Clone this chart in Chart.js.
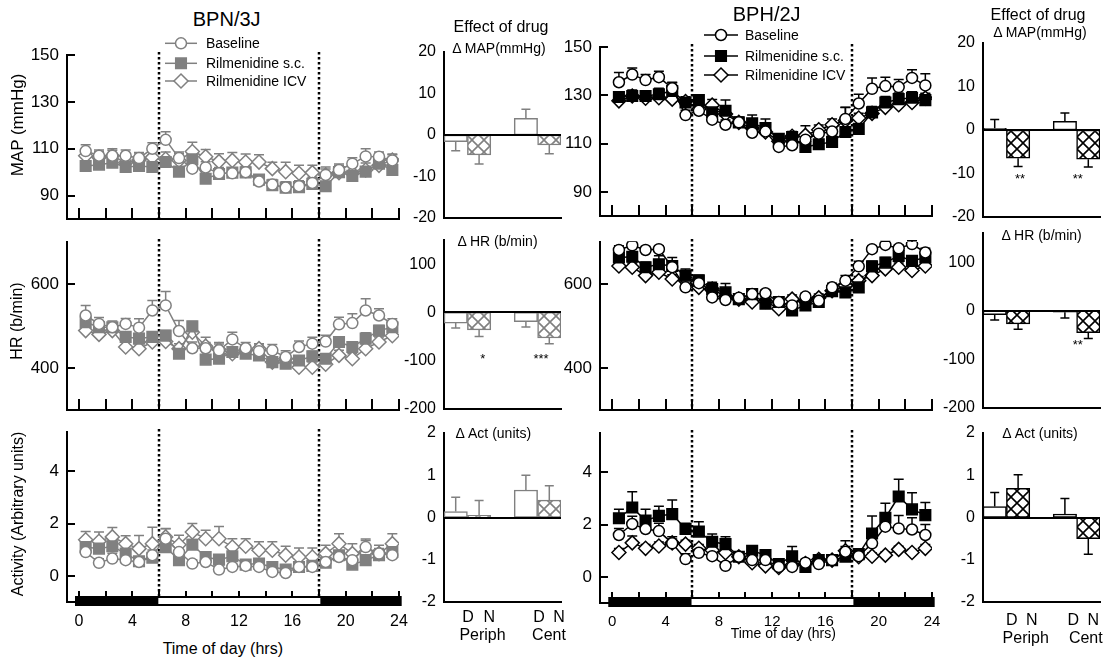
<!DOCTYPE html>
<html>
<head>
<meta charset="utf-8">
<title>BPN/3J vs BPH/2J: rilmenidine, 24 h recordings</title>
<script src="https://cdn.jsdelivr.net/npm/chart.js@4.4.1/dist/chart.umd.min.js"></script>
<style>
  body { margin: 0; background: #fff; width: 1108px; height: 661px; position: relative; overflow: hidden;
         font-family: "Liberation Sans", Arial, sans-serif; color: #000; }
  canvas { position: absolute; }
  .t { position: absolute; white-space: nowrap; transform: translate(-50%, -50%); line-height: 1; }
  .l { position: absolute; white-space: nowrap; transform: translateY(-50%); line-height: 1; }
  .r { position: absolute; white-space: nowrap; transform: translate(-50%, -50%) rotate(-90deg); line-height: 1; }
</style>
</head>
<body>
<script>
// ---- data ----
const hours = [0.5, 1.5, 2.5, 3.5, 4.5, 5.5, 6.5, 7.5, 8.5, 9.5, 10.5, 11.5,
               12.5, 13.5, 14.5, 15.5, 16.5, 17.5, 18.5, 19.5, 20.5, 21.5, 22.5, 23.5];
const timeTicks = [0, 4, 8, 12, 16, 20, 24];
const tickMarkHours = [0, 2, 4, 6, 8, 10, 12, 14, 16, 18, 20, 22, 24];
const lightsOnOff = [6, 18];
const seriesNames = ['Baseline', 'Rilmenidine s.c.', 'Rilmenidine ICV'];

// BPN/3J (normotensive)
const nMapBase = [109, 107, 107, 107, 106, 110, 113.8, 106, 101.5, 102, 99.5, 99.5, 100, 96, 94.7, 93.4, 94, 95.4, 98.8, 100.9, 103.6, 106.7, 106.6, 105];
const nMapBaseErr = [2.7, 2.5, 2.3, 2.5, 2.4, 2.5, 3.4, 2.6, 2.5, 2.4, 2.5, 2.3, 2.5, 2.4, 2.2, 2.5, 2.3, 2.4, 2.5, 2.6, 2.5, 3.3, 2.0, 2.4];
const nMapSc = [102.6, 103.2, 104, 102.2, 102.6, 102.2, 104.3, 100.2, 105.5, 97.2, 99.2, 99.8, 99.9, 96.8, 94.4, 93.4, 93.6, 95, 94, 100, 98.4, 100.2, 103.6, 100.9];
const nMapScErr = [2, 2, 1.8, 2.1, 2, 1.9, 2.2, 2, 2.3, 2, 1.9, 2, 2.1, 2, 1.9, 2, 1.8, 2, 1.9, 2, 2.1, 2, 2.2, 2];
const nMapIcv = [107, 106.3, 107, 104, 105.2, 106.3, 105.6, 105, 108.8, 106.6, 104.5, 105, 104.3, 104.3, 101.5, 100.2, 99.5, 99.8, 98.8, 99.8, 99.5, 100.9, 102.9, 105.2];
const nMapIcvErr = [3, 2.5, 3, 2.5, 3, 2.5, 3, 3, 4, 3.1, 3.4, 3.4, 3.4, 3.1, 2.7, 4, 3.4, 3.1, 3.4, 3, 3, 3, 3, 2.5];

const nHrBase = [525, 505, 497, 505, 496, 537, 549, 488, 447, 447, 442, 468, 447, 440, 442, 426, 450, 458, 463, 504, 507, 537, 525, 505];
const nHrBaseErr = [24, 15, 15, 13, 21, 24, 33, 25, 15, 14, 15, 17, 14, 15, 14, 15, 14, 15, 15, 17, 22, 28, 16, 12];
const nHrSc = [509, 497, 497, 474, 470, 474, 477, 434, 499, 420, 422, 438, 434, 430, 414, 410, 418, 428, 422, 462, 450, 470, 489, 497];
const nHrScErr = [12, 12, 10, 12, 12, 10, 12, 10, 12, 10, 10, 10, 11, 10, 10, 10, 10, 12, 12, 12, 12, 14, 12, 12];
const nHrIcv = [489, 480, 489, 450, 446, 462, 463, 446, 485, 452, 444, 434, 442, 446, 414, 422, 402, 402, 409, 430, 422, 446, 462, 477];
const nHrIcvErr = [12, 12, 10, 12, 12, 12, 12, 12, 12, 21, 17, 12, 12, 12, 12, 14, 12, 12, 12, 12, 12, 12, 12, 12];

const nActBase = [0.91, 0.5, 0.66, 0.6, 0.53, 0.79, 1.42, 0.91, 0.47, 0.53, 0.24, 0.34, 0.38, 0.34, 0.15, 0.11, 0.34, 0.34, 0.53, 0.72, 0.6, 1.1, 0.85, 0.79];
const nActBaseErr = [0.2, 0.15, 0.2, 0.15, 0.15, 0.2, 0.38, 0.2, 0.15, 0.15, 0.12, 0.12, 0.12, 0.12, 0.1, 0.1, 0.12, 0.12, 0.15, 0.2, 0.2, 0.25, 0.2, 0.2];
const nActSc = [1.1, 1.04, 1.13, 0.85, 0.56, 0.69, 1.1, 0.6, 1.19, 0.72, 0.62, 0.75, 0.43, 0.47, 0.34, 0.24, 0.34, 0.38, 0.5, 0.79, 0.43, 0.6, 0.79, 0.91];
const nActScErr = [0.2, 0.18, 0.2, 0.2, 0.15, 0.18, 0.2, 0.15, 0.2, 0.15, 0.15, 0.15, 0.12, 0.12, 0.12, 0.1, 0.12, 0.12, 0.15, 0.15, 0.15, 0.18, 0.15, 0.18];
const nActIcv = [1.38, 1.32, 1.49, 1.23, 1.04, 1.23, 1.49, 1.19, 1.68, 1.42, 1.42, 1.1, 1.13, 0.98, 0.98, 0.79, 0.72, 0.72, 0.85, 1.23, 0.85, 0.91, 0.85, 1.23];
const nActIcvErr = [0.32, 0.36, 0.36, 0.3, 0.5, 0.63, 0.32, 0.36, 0.32, 0.32, 0.47, 0.32, 0.29, 0.32, 0.32, 0.34, 0.34, 0.34, 0.32, 0.38, 0.38, 0.5, 0.32, 0.38];

// BPH/2J (hypertensive)
const hMapBase = [135.4, 138.6, 136.3, 137.5, 132.9, 121.8, 123.6, 119.9, 117.8, 118.8, 114.5, 115, 108.6, 109.3, 111.6, 114.1, 115, 120.2, 126.6, 132.7, 133.8, 133.4, 137.2, 134.1];
const hMapBaseErr = [4, 2.7, 2.3, 2.5, 2.5, 2, 2, 2, 2, 2.1, 2, 1.9, 2, 2, 2, 2.1, 2, 4.8, 3.8, 4.5, 3.7, 3.1, 3.4, 4.8];
const hMapSc = [129.3, 129.7, 129.7, 130.4, 131.8, 127, 128, 122.9, 123.6, 118.8, 118.4, 116.4, 112, 112.7, 108.6, 109.7, 110.7, 114.8, 116.1, 122.9, 127, 128.4, 129, 128];
const hMapScErr = [2, 2.5, 2, 2.5, 3.4, 2, 2, 2.3, 4.4, 2, 3.4, 3.8, 2, 1.6, 2, 2, 2.2, 2, 2, 2.5, 2.5, 2.5, 2.5, 2.5];
const hMapIcv = [127.7, 129.7, 128.8, 129, 128.4, 127.4, 124.3, 125.9, 122.2, 118.8, 116.4, 114.8, 111, 113, 113.4, 115.7, 117.8, 119.5, 120.6, 122.5, 125, 126.1, 127, 128.8];
const hMapIcvErr = [2, 2, 2, 2.2, 2, 2, 2.1, 2.4, 2, 2, 2, 2.2, 2, 2, 4, 2, 2.4, 5.4, 2, 2, 2.1, 2, 2, 2];

const hHrBase = [681, 692, 681, 683, 640, 592, 602, 568, 562, 567, 576, 578, 557, 549, 570, 560, 592, 608, 642, 683, 693, 685, 695, 675];
const hHrBaseErr = [10, 8, 8, 8, 10, 10, 10, 10, 10, 10, 8, 8, 8, 8, 8, 8, 10, 12, 12, 8, 8, 8, 8, 10];
const hHrSc = [663, 665, 640, 647, 643, 620, 609, 588, 580, 564, 576, 553, 557, 537, 549, 557, 583, 580, 592, 642, 651, 667, 655, 663];
const hHrScErr = [12, 12, 12, 20, 20, 16, 12, 16, 21, 12, 12, 12, 12, 12, 12, 12, 17, 16, 12, 12, 12, 12, 12, 12];
const hHrIcv = [643, 640, 620, 628, 612, 608, 592, 588, 570, 564, 557, 559, 541, 564, 559, 567, 584, 596, 608, 620, 636, 640, 632, 643];
const hHrIcvErr = [10, 10, 9, 10, 10, 10, 9, 10, 10, 10, 9, 10, 10, 10, 10, 9, 10, 10, 10, 10, 9, 10, 10, 10];

const hActBase = [1.6, 2.02, 1.83, 1.75, 1.28, 0.68, 0.92, 0.79, 0.42, 0.77, 0.64, 0.64, 0.38, 0.38, 0.54, 0.49, 0.64, 0.96, 0.79, 1.28, 1.92, 1.85, 1.81, 1.6];
const hActBaseErr = [0.25, 0.3, 0.3, 0.3, 0.25, 0.2, 0.2, 0.2, 0.15, 0.15, 0.15, 0.15, 0.12, 0.12, 0.12, 0.12, 0.15, 0.2, 0.2, 0.3, 0.4, 0.5, 0.45, 0.4];
const hActSc = [2.24, 2.65, 2.15, 2.33, 2.4, 1.83, 1.73, 1.34, 1.25, 0.77, 1.0, 0.83, 0.49, 0.79, 0.38, 0.64, 0.64, 0.77, 0.87, 1.66, 2.26, 3.07, 2.58, 2.36];
const hActScErr = [0.34, 0.6, 0.43, 0.37, 0.54, 0.22, 0.38, 0.3, 0.28, 0.15, 0.15, 0.2, 0.15, 0.37, 0.15, 0.15, 0.15, 0.15, 0.15, 0.67, 0.55, 0.66, 0.64, 0.48];
const hActIcv = [0.93, 1.3, 1.09, 1.18, 1.3, 1.25, 1.09, 1.02, 0.92, 0.77, 0.54, 0.42, 0.36, 0.45, 0.51, 0.66, 0.64, 1.0, 0.77, 0.79, 0.83, 1.05, 0.93, 1.09];
const hActIcvErr = [0.15, 0.26, 0.15, 0.15, 0.15, 0.15, 0.15, 0.15, 0.15, 0.12, 0.12, 0.12, 0.1, 0.1, 0.1, 0.1, 0.1, 0.38, 0.12, 0.12, 0.12, 0.12, 0.12, 0.15];

// effect of drug: D Periph, N Periph, D Cent, N Cent
const barSlots = ['D', 'N', '', 'D', 'N'];
const nMapEffect = [-1.6, -4.8, 4.0, -2.4];
const nMapEffectErr = [2.2, 2.2, 2.2, 2.1];
const nHrEffect = [-22, -36, -19, -53];
const nHrEffectErr = [10, 14, 11, 12];
const nActEffect = [0.14, 0.05, 0.65, 0.41];
const nActEffectErr = [0.34, 0.35, 0.35, 0.34];
const hMapEffect = [0.4, -6.5, 2.0, -6.7];
const hMapEffectErr = [2.0, 1.9, 1.9, 1.8];
const hHrEffect = [-8, -27, -3, -45];
const hHrEffectErr = [11, 11, 12, 12];
const hActEffect = [0.26, 0.69, 0.08, -0.5];
const hActEffectErr = [0.33, 0.32, 0.37, 0.37];

// ---- drawing ----
const GRAY = '#808080';
Chart.defaults.font.family = '"Liberation Sans", Arial, sans-serif';
Chart.defaults.font.size = 16;
Chart.defaults.color = '#000';

function zeroPad(s) { s.paddingLeft = 0; s.paddingRight = 0; s.paddingTop = 0; s.paddingBottom = 0; }

function makeCanvas(area, m) {
  const c = document.createElement('canvas');
  const w = area[2] - area[0] + m.l + m.r, h = area[3] - area[1] + m.t + m.b;
  c.width = w; c.height = h;
  c.style.left = (area[0] - m.l) + 'px'; c.style.top = (area[1] - m.t) + 'px';
  c.style.width = w + 'px'; c.style.height = h + 'px';
  document.body.appendChild(c);
  return c;
}

function marker(ctx, kind, x, y, color) {
  ctx.beginPath();
  if (kind === 'circle') ctx.arc(x, y, 5.5, 0, Math.PI * 2);
  else if (kind === 'rect') ctx.rect(x - 5.3, y - 5.3, 10.6, 10.6);
  else { ctx.moveTo(x, y - 7); ctx.lineTo(x + 7, y); ctx.lineTo(x, y + 7); ctx.lineTo(x - 7, y); ctx.closePath(); }
  ctx.fillStyle = kind === 'rect' ? color : '#fff';
  ctx.fill();
  ctx.strokeStyle = color; ctx.lineWidth = 1.5; ctx.stroke();
}

const tsPlugin = {
  id: 'ts',
  beforeDatasetsDraw(chart, args, o) {
    const { ctx, chartArea: a, scales: { x, y } } = chart;
    ctx.save();
    ctx.strokeStyle = '#000'; ctx.lineWidth = 2.5; ctx.setLineDash([2.5, 2.5]);
    lightsOnOff.forEach(h => {
      const px = Math.round(x.getPixelForValue(h));
      ctx.beginPath(); ctx.moveTo(px, a.top - 3); ctx.lineTo(px, a.bottom); ctx.stroke();
    });
    ctx.setLineDash([]);
    chart.data.datasets.forEach(ds => {
      ctx.strokeStyle = ds.borderColor; ctx.lineWidth = 1.5;
      ds.data.forEach((p, i) => {
        const px = x.getPixelForValue(p.x), py = y.getPixelForValue(p.y);
        const pe = y.getPixelForValue(p.y + ds.errors[i]);
        ctx.beginPath(); ctx.moveTo(px, py); ctx.lineTo(px, pe);
        ctx.moveTo(px - 5, pe); ctx.lineTo(px + 5, pe); ctx.stroke();
      });
    });
    ctx.restore();
  },
  afterDraw(chart, args, o) {
    const { ctx, chartArea: a, scales: { x, y } } = chart;
    ctx.save();
    ctx.strokeStyle = '#000'; ctx.lineWidth = 2;
    y.ticks.forEach(t => {
      const py = Math.round(y.getPixelForValue(t.value));
      ctx.beginPath(); ctx.moveTo(a.left, py); ctx.lineTo(a.left + 8, py); ctx.stroke();
    });
    tickMarkHours.forEach(h => {
      const px = Math.round(x.getPixelForValue(h));
      ctx.beginPath(); ctx.moveTo(px, a.bottom); ctx.lineTo(px, a.bottom - 11); ctx.stroke();
    });
    if (o.lightBar) {
      const x0 = x.getPixelForValue(-0.3), x1 = x.getPixelForValue(5.95);
      const x2 = x.getPixelForValue(18.1), x3 = x.getPixelForValue(24.2);
      ctx.fillStyle = '#000';
      ctx.fillRect(x0, a.bottom - 6, x3 - x0, 10);
      ctx.fillStyle = '#fff';
      ctx.fillRect(x1, a.bottom - 4, x2 - x1, 6);
    }
    if (o.legend) {
      const L = o.legend;
      ['circle', 'rect', 'rectRot'].forEach((k, i) => {
        const yy = L.ys[i] - L.oy;
        ctx.strokeStyle = L.color; ctx.lineWidth = 1.5;
        ctx.beginPath(); ctx.moveTo(L.x1 - L.ox, yy); ctx.lineTo(L.x2 - L.ox, yy); ctx.stroke();
        marker(ctx, k, (L.x1 + L.x2) / 2 - L.ox, yy, L.color);
      });
    }
    ctx.restore();
  }
};

function xy(vals) { return vals.map((v, i) => ({ x: hours[i], y: v })); }

function seriesSets(color, base, baseErr, sc, scErr, icv, icvErr) {
  const common = { borderColor: color, borderWidth: 1.5, tension: 0, pointBorderColor: color, pointBorderWidth: 1.5 };
  return [
    Object.assign({ label: seriesNames[0], data: xy(base), errors: baseErr, pointStyle: 'circle', pointRadius: 5.5, pointBackgroundColor: '#fff' }, common),
    Object.assign({ label: seriesNames[1], data: xy(sc), errors: scErr, pointStyle: 'rect', pointRadius: 7.5, pointBackgroundColor: color }, common),
    Object.assign({ label: seriesNames[2], data: xy(icv), errors: icvErr, pointStyle: 'rectRot', pointRadius: 7, pointBackgroundColor: '#fff' }, common)
  ];
}

function timeChart(area, m, yMin, yMax, yTicks, sets, extra) {
  const cv = makeCanvas(area, m);
  if (extra.legend) { extra.legend.ox = area[0] - m.l; extra.legend.oy = area[1] - m.t; }
  return new Chart(cv, {
    type: 'line',
    data: { datasets: sets },
    options: {
      responsive: false, animation: false, events: [],
      layout: { autoPadding: false, padding: { left: 0, top: m.t, right: m.r, bottom: 0 } },
      plugins: { legend: { display: false }, tooltip: { enabled: false }, ts: extra },
      scales: {
        x: {
          type: 'linear', min: extra.xMin, max: 24,
          grid: { display: false, drawTicks: false }, border: { color: '#000', width: 2 },
          ticks: { display: !!extra.xLabels, padding: 10, autoSkip: false, maxRotation: 0, font: { size: extra.xFont || 16 } },
          afterBuildTicks: s => { s.ticks = timeTicks.map(v => ({ value: v })); },
          afterFit: s => { s.height = m.b; zeroPad(s); }
        },
        y: {
          type: 'linear', min: yMin, max: yMax,
          grid: { display: false, drawTicks: false }, border: { color: '#000', width: 2 },
          ticks: { padding: 8, autoSkip: false, font: { size: 17 } },
          afterBuildTicks: s => { s.ticks = yTicks.map(v => ({ value: v })); },
          afterFit: s => { s.width = m.l; zeroPad(s); }
        }
      }
    },
    plugins: [tsPlugin]
  });
}

function hatch(color) {
  const n = 12;
  const c = document.createElement('canvas');
  c.width = n; c.height = n;
  const g = c.getContext('2d');
  g.fillStyle = '#fff'; g.fillRect(0, 0, n, n);
  g.strokeStyle = color; g.lineWidth = 1.6;
  g.beginPath(); g.moveTo(-1, -1); g.lineTo(n + 1, n + 1); g.moveTo(n + 1, -1); g.lineTo(-1, n + 1); g.stroke();
  return g.createPattern(c, 'repeat');
}

const effectPlugin = {
  id: 'fx',
  afterDatasetsDraw(chart) {
    const { ctx, chartArea: a, scales: { y } } = chart;
    const ds = chart.data.datasets[0];
    const meta = chart.getDatasetMeta(0);
    ctx.save();
    ctx.strokeStyle = ds.borderColor; ctx.lineWidth = 1.5;
    meta.data.forEach((bar, i) => {
      const v = ds.data[i];
      if (v === null) return;
      const e = ds.errors[i] * (v < 0 ? -1 : 1);
      const py = y.getPixelForValue(v), pe = y.getPixelForValue(v + e);
      ctx.beginPath(); ctx.moveTo(bar.x, py); ctx.lineTo(bar.x, pe);
      ctx.moveTo(bar.x - 4.5, pe); ctx.lineTo(bar.x + 4.5, pe); ctx.stroke();
    });
    const zy = Math.round(y.getPixelForValue(0));
    ctx.strokeStyle = '#000'; ctx.lineWidth = 2;
    ctx.beginPath(); ctx.moveTo(a.left, zy); ctx.lineTo(a.right, zy); ctx.stroke();
    ctx.restore();
  }
};

function effectChart(area, m, yMin, yMax, yTicks, vals, errs, color) {
  const cv = makeCanvas(area, m);
  const pat = hatch(color);
  return new Chart(cv, {
    type: 'bar',
    data: {
      labels: barSlots,
      datasets: [{
        data: [vals[0], vals[1], null, vals[2], vals[3]],
        errors: [errs[0], errs[1], null, errs[2], errs[3]],
        backgroundColor: ['#fff', pat, '#fff', '#fff', pat],
        borderColor: color, borderWidth: 1.5, borderSkipped: false,
        barPercentage: 1, categoryPercentage: 1
      }]
    },
    options: {
      responsive: false, animation: false, events: [],
      layout: { autoPadding: false, padding: { left: 0, top: m.t, right: m.r, bottom: 0 } },
      plugins: { legend: { display: false }, tooltip: { enabled: false } },
      scales: {
        x: {
          grid: { display: false, drawTicks: false }, border: { color: '#000', width: 2 },
          ticks: { display: false },
          afterFit: s => { s.height = m.b; zeroPad(s); }
        },
        y: {
          type: 'linear', min: yMin, max: yMax,
          grid: { display: false, drawTicks: false }, border: { color: '#000', width: 2 },
          ticks: { padding: 8, autoSkip: false },
          afterBuildTicks: s => { s.ticks = yTicks.map(v => ({ value: v })); },
          afterFit: s => { s.width = m.l; zeroPad(s); }
        }
      }
    },
    plugins: [effectPlugin]
  });
}

// time-course panels
timeChart([67, 55, 399, 219], { l: 67, t: 25, r: 10, b: 8 }, 80, 150, [90, 110, 130, 150],
  seriesSets(GRAY, nMapBase, nMapBaseErr, nMapSc, nMapScErr, nMapIcv, nMapIcvErr),
  { xMin: -0.9, legend: { x1: 165, x2: 197, ys: [43.3, 63.3, 81], color: GRAY } });
timeChart([67, 242, 399, 410], { l: 67, t: 10, r: 10, b: 8 }, 300, 700, [400, 600],
  seriesSets(GRAY, nHrBase, nHrBaseErr, nHrSc, nHrScErr, nHrIcv, nHrIcvErr), { xMin: -0.9 });
timeChart([67, 432, 399, 602], { l: 67, t: 10, r: 10, b: 34 }, -1, 5.5, [0, 2, 4],
  seriesSets(GRAY, nActBase, nActBaseErr, nActSc, nActScErr, nActIcv, nActIcvErr),
  { xMin: -0.9, xLabels: true, lightBar: true });

timeChart([600, 47, 932, 216], { l: 50, t: 25, r: 10, b: 8 }, 80, 150, [90, 110, 130, 150],
  seriesSets('#000', hMapBase, hMapBaseErr, hMapSc, hMapScErr, hMapIcv, hMapIcvErr),
  { xMin: -0.92, legend: { x1: 704, x2: 738, ys: [35, 56, 75], color: '#000' } });
timeChart([600, 242, 932, 410], { l: 50, t: 10, r: 10, b: 8 }, 300, 700, [400, 600],
  seriesSets('#000', hHrBase, hHrBaseErr, hHrSc, hHrScErr, hHrIcv, hHrIcvErr), { xMin: -0.92 });
timeChart([600, 433, 932, 603], { l: 50, t: 10, r: 10, b: 34 }, -1, 5.5, [0, 2, 4],
  seriesSets('#000', hActBase, hActBaseErr, hActSc, hActScErr, hActIcv, hActIcvErr),
  { xMin: -0.92, xLabels: true, lightBar: true, xFont: 15 });

// effect-of-drug panels
effectChart([444, 52, 561, 218], { l: 44, t: 8, r: 4, b: 6 }, -20, 20, [-20, -10, 0, 10, 20], nMapEffect, nMapEffectErr, GRAY);
effectChart([444, 240, 561, 409], { l: 44, t: 8, r: 4, b: 6 }, -200, 150, [-200, -100, 0, 100], nHrEffect, nHrEffectErr, GRAY);
effectChart([444, 433, 561, 602], { l: 44, t: 8, r: 4, b: 6 }, -2, 2, [-2, -1, 0, 1, 2], nActEffect, nActEffectErr, GRAY);
effectChart([983, 43, 1100, 217], { l: 44, t: 8, r: 4, b: 6 }, -20, 20, [-20, -10, 0, 10, 20], hMapEffect, hMapEffectErr, '#000');
effectChart([983, 233, 1100, 408], { l: 44, t: 8, r: 4, b: 6 }, -200, 160, [-200, -100, 0, 100], hHrEffect, hHrEffectErr, '#000');
effectChart([983, 433, 1100, 602], { l: 44, t: 8, r: 4, b: 6 }, -2, 2, [-2, -1, 0, 1, 2], hActEffect, hActEffectErr, '#000');

// ---- text ----
function txt(s, x, y, size, cls) {
  const d = document.createElement('div');
  d.className = cls || 't';
  d.textContent = s;
  d.style.left = x + 'px'; d.style.top = y + 'px'; d.style.fontSize = size + 'px';
  document.body.appendChild(d);
}
txt('BPN/3J', 226.7, 19, 20);
txt('BPH/2J', 766.7, 14, 20);
seriesNames.forEach((s, i) => txt(s, 206, [43.3, 63.3, 81][i], 14, 'l'));
seriesNames.forEach((s, i) => txt(s, 745, [35, 56, 75][i], 14, 'l'));
txt('MAP (mmHg)', 17, 125, 17, 'r');
txt('HR (b/min)', 17, 321, 16, 'r');
txt('Activity (Arbitrary units)', 18, 514, 16, 'r');
txt('Effect of drug', 501, 27, 16);
txt('Effect of drug', 1038, 15, 16);
txt('\u0394 MAP(mmHg)', 499, 48, 14);
txt('\u0394 MAP(mmHg)', 1040, 32, 14);
txt('\u0394 HR (b/min)', 497.5, 241, 14);
txt('\u0394 HR (b/min)', 1041.7, 235, 14);
txt('\u0394 Act (units)', 493.3, 433, 14);
txt('\u0394 Act (units)', 1040, 433.3, 14);
txt('**', 1020, 178, 13);
txt('**', 1077.7, 178, 13);
txt('*', 482.7, 358, 13);
txt('***', 541, 358, 13);
txt('**', 1077.7, 344, 13);
txt('Time of day (hrs)', 222.8, 649, 16);
txt('Time of day (hrs)', 783.3, 633, 14);
[['D', 468], ['N', 489.3], ['D', 539], ['N', 559]].forEach(([s, x]) => txt(s, x, 617, 16));
txt('Periph', 482.5, 635, 16);
txt('Cent', 549, 635, 16);
[['D', 1011.7], ['N', 1031.7], ['D', 1073.3], ['N', 1093.3]].forEach(([s, x]) => txt(s, x, 620, 16));
txt('Periph', 1025.7, 638, 16);
txt('Cent', 1085.8, 638, 16);
</script>
</body>
</html>
